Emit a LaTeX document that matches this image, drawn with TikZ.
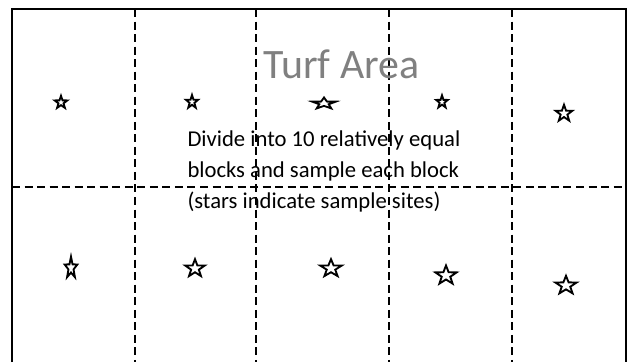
\documentclass[tikz,border=0pt]{standalone}
\usepackage{fontspec}
\setmainfont{Carlito}
\usetikzlibrary{shapes.geometric}

\definecolor{turfgray}{RGB}{128,128,128}
\tikzset{every picture/.style={line width=0.75pt}}
\tikzset{
  frameline/.style={line width=1.5pt},
  blockline/.style={line width=1.5pt, dash pattern={on 6pt off 3.4pt}},
  site/.style={star, star points=5, star point ratio=2.5, draw, line width=1.4pt,
    inner sep=0pt, minimum size=10pt},
  label/.style={anchor=base west, inner sep=0pt}
}

\begin{document}
\begin{tikzpicture}[x=0.75pt,y=0.75pt,yscale=-1,xscale=1]
\useasboundingbox (0,0) rectangle (629,362);

%Shape: Frame (open at the bottom)
\draw [frameline] (12,362) -- (12,9) -- (626,9) -- (626,362) ;
%Straight Lines: block borders
\draw [blockline] (12,187) -- (626,187) ;
\draw [blockline] (135,9) -- (135,362) ;
\draw [blockline] (256,9) -- (256,362) ;
\draw [blockline] (389,9) -- (389,362) ;
\draw [blockline] (512,9) -- (512,362) ;

%Shape: Stars, top row
\node [site, xscale=1.00, yscale=1.00] (s1) at (61,102.5) {};
\node [site, xscale=0.95, yscale=1.05] (s2) at (192,102) {};
\node [site, xscale=1.85, yscale=0.90] (s3) at (324,103.5) {};
\node [site, xscale=0.92, yscale=1.00] (s4) at (442,102) {};
\node [site, xscale=1.32, yscale=1.32] (s5) at (564,113.5) {};
%Shape: Stars, bottom row
\node [site, xscale=1.00, yscale=1.70] (s6) at (71,268) {};
\node [site, xscale=1.52, yscale=1.40] (s7) at (195,268.5) {};
\node [site, xscale=1.68, yscale=1.40] (s8) at (331,268.5) {};
\node [site, xscale=1.68, yscale=1.50] (s9) at (446,275.5) {};
\node [site, xscale=1.68, yscale=1.45] (s10) at (566,285.5) {};

% Text Node
\node [label, text=turfgray, font=\fontsize{31.4}{36}\selectfont] (title) at (263,78) {Turf Area};
% Text Node
\node [label, font=\fontsize{17}{20}\selectfont] (line1) at (187,146) {Divide into 10 relatively equal};
% Text Node
\node [label, font=\fontsize{17}{20}\selectfont] (line2) at (187,177) {blocks and sample each block};
% Text Node
\node [label, font=\fontsize{17}{20}\selectfont] (line3) at (187,208) {(stars indicate sample sites)};

\end{tikzpicture}
\end{document}
